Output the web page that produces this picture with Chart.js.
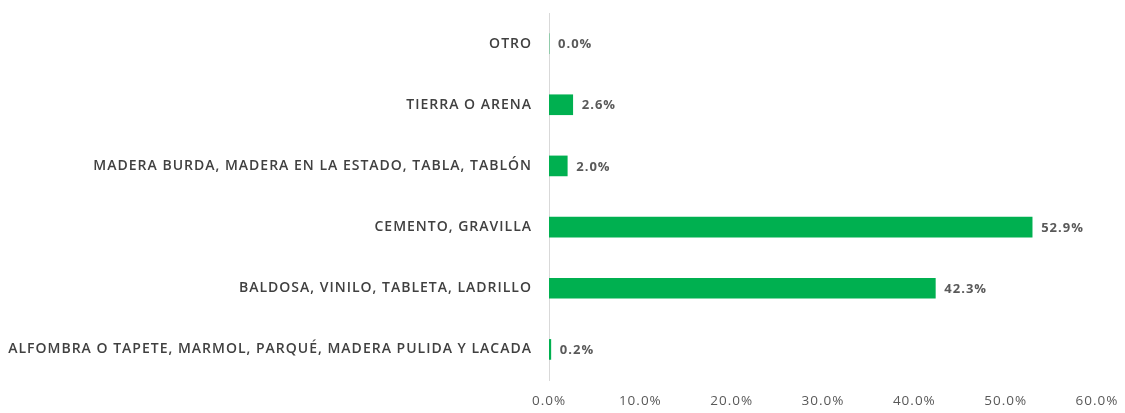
<!DOCTYPE html>
<html>
<head>
<meta charset="utf-8">
<script src="https://cdn.jsdelivr.net/npm/chart.js@4"></script>
<style>
  html, body { margin: 0; padding: 0; background: #fff; }
</style>
</head>
<body>
<canvas id="myBar" width="1125" height="413"></canvas>
<script>
const categories = [
    'OTRO',
    'TIERRA O ARENA',
    'MADERA BURDA, MADERA EN LA ESTADO, TABLA, TABLÓN',
    'CEMENTO, GRAVILLA',
    'BALDOSA, VINILO, TABLETA, LADRILLO',
    'ALFOMBRA O TAPETE, MARMOL, PARQUÉ, MADERA PULIDA Y LACADA'
]
const values = [0.0, 2.6, 2.0, 52.9, 42.3, 0.2]
const tickMax = 60
const tickStep = 10

// the reference text is wide, so space the letters a bit
const wideText = {
    id: 'wideText',
    beforeLayout(chart) { chart.ctx.letterSpacing = '1px' },
    beforeDraw(chart) { chart.ctx.letterSpacing = '1px' }
}

// labels at the end of each bar
const valueLabels = {
    id: 'valueLabels',
    afterDatasetsDraw(chart) {
        let ctx = chart.ctx
        let meta = chart.getDatasetMeta(0)
        ctx.save()
        ctx.font = 'bold 13px "Open Sans", sans-serif'
        ctx.fillStyle = '#595959'
        ctx.textBaseline = 'middle'
        meta.data.forEach((bar, i) => {
            ctx.fillText(values[i].toFixed(1) + '%', bar.x + 9, bar.y + 1)
        })
        ctx.restore()
    }
}

let ctx = document.querySelector('#myBar').getContext('2d')
let myBarChart = new Chart(ctx, {
    type: 'bar',
    data: {
        labels: categories,
        datasets: [{
            data: values,
            backgroundColor: '#00B050',
            barThickness: 20
        }]
    },
    options: {
        indexAxis: 'y',
        responsive: false,
        animation: false,
        layout: { padding: { top: 13, right: 28, left: 0, bottom: 0 } },
        plugins: {
            legend: { display: false },
            tooltip: { enabled: false }
        },
        scales: {
            x: {
                min: 0,
                max: tickMax,
                grid: { display: false, drawTicks: false },
                border: { display: false },
                ticks: {
                    stepSize: tickStep,
                    color: '#595959',
                    font: { family: '"Open Sans", sans-serif', size: 13.5 },
                    padding: 13,
                    callback: v => v.toFixed(1) + '%'
                },
                afterFit: s => {
                    s.height = 33
                    s.paddingLeft = 0
                    s.paddingRight = 0
                }
            },
            y: {
                grid: { display: false, drawTicks: false },
                border: { display: true, color: '#D9D9D9', width: 1 },
                ticks: {
                    color: '#404040',
                    font: { family: '"Open Sans", sans-serif', size: 14, weight: 600 },
                    padding: 17
                },
                afterFit: s => {
                    s.width = 549
                    s.paddingTop = 0
                    s.paddingBottom = 0
                }
            }
        }
    },
    plugins: [wideText, valueLabels]
})
</script>
</body>
</html>
